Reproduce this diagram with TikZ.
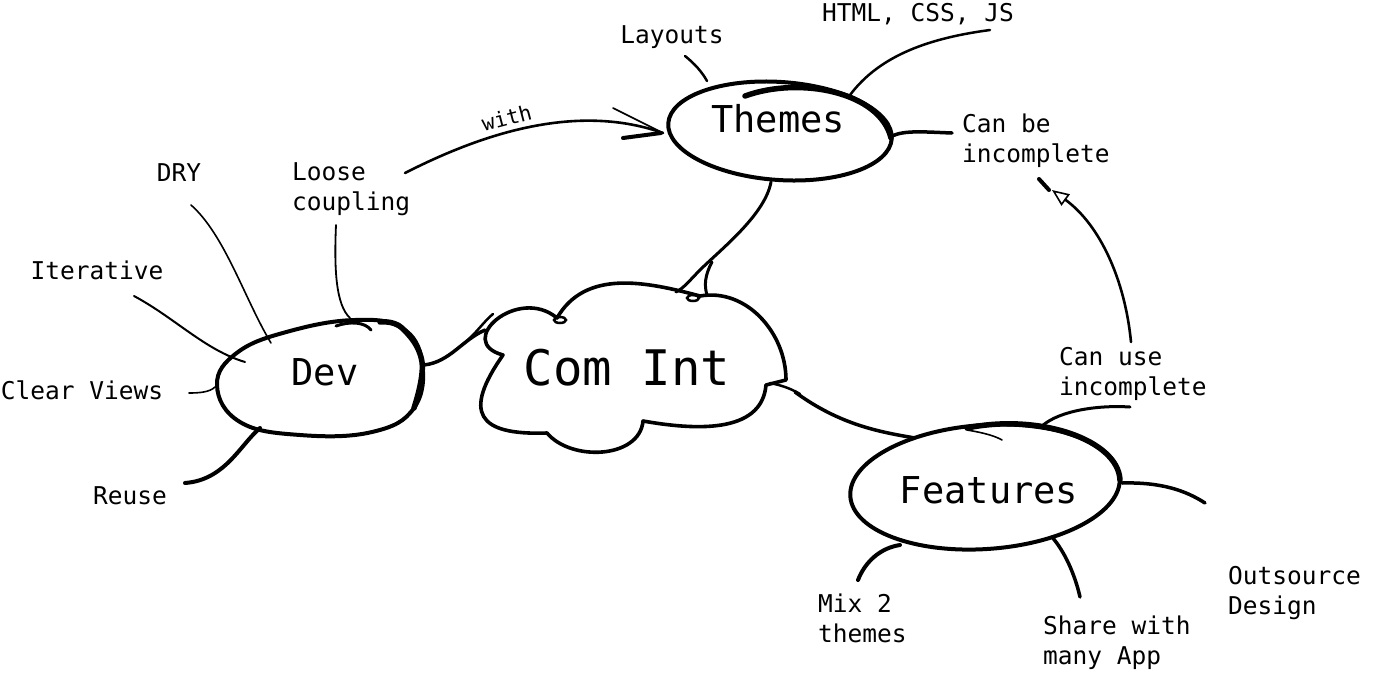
\documentclass[tikz,border=0pt]{standalone}
\usepackage{fontspec}
\setmonofont{DejaVu Sans Mono}
\usetikzlibrary{arrows.meta}
\begin{document}
\begin{tikzpicture}[x=1pt,y=1pt,
  leaf/.style={font=\ttfamily\fontsize{24.5}{30}\selectfont, inner sep=0pt, align=left},
  topic/.style={font=\ttfamily\fontsize{37}{40}\selectfont, inner sep=0pt},
  core/.style={font=\ttfamily\fontsize{49}{52}\selectfont, inner sep=0pt},
  outline/.style={line width=4pt, line cap=round, line join=round},
  heavy/.style={line width=5.5pt, line cap=round},
  link/.style={line width=3.5pt, line cap=round},
  fine/.style={line width=1.6pt, line cap=round}]
\useasboundingbox (0,0) rectangle (1378,-675);

% ---------- central cloud ----------
\draw[outline, line width=3.6pt]
  (503,-355) to[out=165,in=140,looseness=2] (557,-318)
  to[out=60,in=165] (700,-296)
  to[out=10,in=90] (786,-380)
  -- (766,-385)
  to[out=-95,in=-10] (643,-421)
  to[out=-95,in=-50] (547,-433)
  to[out=-178,in=-125,looseness=2] cycle;
\draw[line width=2.5pt] (560,-320) ellipse[x radius=6, y radius=3];
\draw[line width=2.5pt] (693,-298) ellipse[x radius=6, y radius=3];
\node[core] (core) at (627,-368) {Com Int};

% ---------- Themes ----------
\draw[outline] (780,-131) ellipse[x radius=112, y radius=49, rotate=-4];
\draw[heavy] (745,-96) .. controls (800,-76) and (880,-92) .. (891,-138);
\node[topic] (themes) at (778,-119) {Themes};

% ---------- Dev ----------
\draw[outline] plot[smooth cycle, tension=0.7] coordinates
  {(217,-385) (238,-352) (290,-331) (355,-320) (402,-328) (422,-362)
   (414,-408) (372,-432) (300,-435) (240,-422)};
\draw[heavy] plot[smooth, tension=0.7] coordinates {(380,-322) (402,-328) (422,-362) (414,-408)};
\node[topic] (dev) at (325,-372) {Dev};

% ---------- Features ----------
\draw[outline] (985,-487) ellipse[x radius=135, y radius=62, rotate=4];
\draw[heavy] (967,-428) .. controls (1040,-413) and (1118,-440) .. (1120,-480);
\draw[fine] (967,-430) .. controls (985,-433) and (995,-436) .. (1002,-440);
\node[topic] (features) at (989,-490) {Features};

% ---------- leaf labels ----------
\node[leaf] (layouts) at (672,-37) {Layouts};
\node[leaf] (html) at (918,-14) {HTML, CSS, JS};
\node[leaf, anchor=west] (canbe) at (962,-140.5) {Can be\\incomplete};
\node[leaf, anchor=west] (loose) at (292,-189) {Loose\\coupling};
\node[leaf] (dry) at (179,-173) {DRY};
\node[leaf] (iter) at (97,-270) {Iterative};
\node[leaf] (clear) at (82,-390) {Clear Views};
\node[leaf] (reuse) at (130,-496) {Reuse};
\node[leaf, anchor=west] (canuse) at (1059,-374) {Can use\\incomplete};
\node[leaf, anchor=west] (outs) at (1228,-593) {Outsource\\Design};
\node[leaf, anchor=west] (mix) at (818,-618) {Mix 2\\themes};
\node[leaf, anchor=west] (share) at (1043,-643) {Share with\\many App};

% ---------- main connectors ----------
% Themes -- cloud
\draw[link, line width=3pt] (771,-182) .. controls (765,-215) and (720,-250) .. (700,-270)
  .. controls (690,-280) and (684,-288) .. (676,-292);
\draw[link, line width=3pt] (712,-262) .. controls (705,-275) and (704,-285) .. (707,-295);
% Dev -- cloud
\draw[link] (424,-365) .. controls (450,-362) and (462,-340) .. (485,-330);
\draw[link, line width=2.5pt] (462,-345) .. controls (475,-335) and (485,-320) .. (493,-314);
% cloud -- Features
\draw[link] (795,-392) .. controls (840,-425) and (880,-432) .. (915,-438);
\draw[link, line width=2.5pt] (770,-383) .. controls (780,-385) and (790,-388) .. (800,-394);

% ---------- Themes leaves ----------
\draw[link, line width=2.5pt] (685,-56) .. controls (695,-64) and (702,-72) .. (707,-81);
\draw[link, line width=2.5pt] (850,-95) .. controls (880,-55) and (930,-38) .. (990,-30);
\draw[link] (892,-136) .. controls (905,-130) and (925,-132) .. (952,-133);

% Loose coupling --with--> Themes
\draw[link, line width=2.6pt] (405,-173) .. controls (470,-140) and (570,-100) .. (663,-133)
  node[pos=0.45, sloped, above=5pt, font=\ttfamily\fontsize{21}{24}\selectfont, inner sep=0pt] (with) {with};
\draw[fine] (613,-108) -- (663,-133);
\draw[link, line width=4pt] (623,-138) -- (661,-133);

% ---------- Dev leaves ----------
\draw[fine, line width=1.8pt] (336,-225) .. controls (334,-270) and (336,-305) .. (350,-318);
\draw[link, line width=3pt] (336,-326) .. controls (350,-321) and (365,-322) .. (371,-330);
\draw[fine] (191,-205) .. controls (225,-235) and (245,-300) .. (271,-343);
\draw[fine, line width=2pt] (134,-296) .. controls (175,-318) and (205,-350) .. (245,-362);
\draw[fine] (189,-393) .. controls (200,-393) and (210,-392) .. (215,-387);
\draw[link, line width=4pt] (185,-483) .. controls (225,-480) and (240,-445) .. (260,-428);

% ---------- Features leaves ----------
\draw[link, line width=3pt] (1042,-426) .. controls (1060,-410) and (1100,-405) .. (1130,-407);
\draw[link, line width=2.6pt, -{Triangle[open, length=17pt, width=14pt, line width=1.6pt]}]
  (1131,-342) .. controls (1125,-280) and (1100,-225) .. (1052,-190);
\draw[link, line width=4pt] (1039,-179) -- (1049,-190);
\draw[link] (1122,-483) .. controls (1160,-482) and (1185,-490) .. (1205,-503);
\draw[link] (1052,-537) .. controls (1065,-552) and (1075,-575) .. (1080,-597);
\draw[link, line width=4pt] (900,-545) .. controls (880,-548) and (865,-562) .. (858,-580);
\end{tikzpicture}
\end{document}
